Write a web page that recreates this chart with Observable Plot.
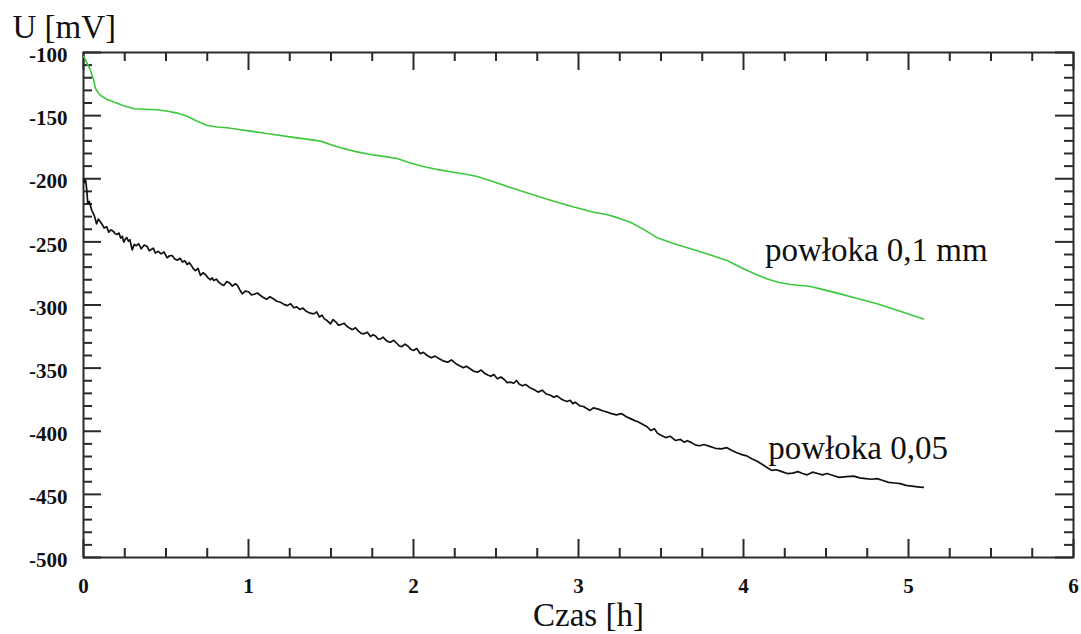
<!DOCTYPE html>
<html>
<head>
<meta charset="utf-8">
<script src="https://cdn.jsdelivr.net/npm/d3@7"></script>
<script src="https://cdn.jsdelivr.net/npm/@observablehq/plot@0.6"></script>
<style>
  html, body { margin: 0; padding: 0; background: #fff; }
</style>
</head>
<body>
<div id="chart"></div>
<script>
// Series: powłoka 0,1 mm (green)
const greenT = [0, 0.006, 0.02, 0.042, 0.06, 0.073, 0.09, 0.103, 0.14, 0.184, 0.24, 0.305, 0.37, 0.447, 0.51, 0.568, 0.628, 0.69, 0.75, 0.81, 0.871, 0.94, 1.012, 1.08, 1.153, 1.26, 1.376, 1.436, 1.5, 1.558, 1.65, 1.739, 1.82, 1.9, 1.98, 2.06, 2.15, 2.24, 2.31, 2.386, 2.467, 2.588, 2.71, 2.83, 2.96, 3.093, 3.17, 3.24, 3.315, 3.4, 3.477, 3.58, 3.68, 3.79, 3.9, 4.0, 4.07, 4.14, 4.21, 4.285, 4.406, 4.49, 4.568, 4.69, 4.81, 4.95, 5.09];
const greenU = [-103, -104, -108, -114, -121, -128.5, -132, -134, -137, -139.3, -142, -144.5, -145, -145.4, -146.5, -148, -150.5, -154.5, -157.8, -159, -159.6, -161, -162.3, -163.5, -165, -167, -169, -170.2, -173, -175.5, -178.5, -180.8, -182.3, -184, -187.5, -190.3, -192.8, -194.8, -196.3, -198.2, -201.5, -207, -212, -217, -222, -226.5, -228.3, -231, -234.4, -240.5, -246.8, -251.5, -255.5, -260, -264.7, -271.3, -275.5, -279.2, -282, -283.7, -285.3, -288, -290.6, -294.8, -299, -305, -311];

// Series: powłoka 0,05 (black)
const blackT = [0, 0.006, 0.013, 0.02, 0.026, 0.035, 0.05, 0.065, 0.079, 0.09, 0.1, 0.112, 0.125, 0.14, 0.153, 0.167, 0.18, 0.192, 0.204, 0.215, 0.225, 0.235, 0.244, 0.253, 0.262, 0.272, 0.281, 0.295, 0.308, 0.32, 0.335, 0.35, 0.368, 0.386, 0.398, 0.41, 0.423, 0.436, 0.453, 0.47, 0.488, 0.507, 0.522, 0.537, 0.553, 0.57, 0.585, 0.6, 0.614, 0.628, 0.642, 0.655, 0.667, 0.679, 0.694, 0.709, 0.724, 0.74, 0.755, 0.77, 0.78, 0.79, 0.805, 0.82, 0.835, 0.85, 0.868, 0.885, 0.902, 0.92, 0.933, 0.945, 0.962, 0.98, 1.0, 1.018, 1.035, 1.054, 1.073, 1.09, 1.11, 1.13, 1.15, 1.172, 1.194, 1.215, 1.235, 1.255, 1.275, 1.293, 1.31, 1.33, 1.35, 1.373, 1.396, 1.413, 1.43, 1.445, 1.46, 1.478, 1.497, 1.513, 1.53, 1.545, 1.56, 1.58, 1.598, 1.615, 1.63, 1.648, 1.665, 1.683, 1.7, 1.72, 1.74, 1.755, 1.77, 1.785, 1.8, 1.815, 1.83, 1.845, 1.86, 1.88, 1.9, 1.915, 1.93, 1.948, 1.965, 1.983, 2.0, 2.02, 2.04, 2.06, 2.083, 2.107, 2.13, 2.157, 2.184, 2.207, 2.23, 2.257, 2.285, 2.302, 2.32, 2.343, 2.365, 2.388, 2.41, 2.43, 2.45, 2.468, 2.487, 2.508, 2.53, 2.55, 2.568, 2.588, 2.608, 2.624, 2.64, 2.66, 2.68, 2.705, 2.73, 2.755, 2.78, 2.805, 2.83, 2.85, 2.87, 2.89, 2.91, 2.93, 2.95, 2.965, 2.98, 2.995, 3.01, 3.03, 3.05, 3.07, 3.09, 3.12, 3.15, 3.175, 3.2, 3.23, 3.26, 3.29, 3.315, 3.338, 3.36, 3.388, 3.416, 3.438, 3.46, 3.478, 3.497, 3.527, 3.557, 3.587, 3.618, 3.64, 3.66, 3.685, 3.71, 3.735, 3.76, 3.795, 3.83, 3.865, 3.9, 3.93, 3.96, 3.99, 4.02, 4.05, 4.08, 4.11, 4.14, 4.17, 4.2, 4.232, 4.265, 4.298, 4.33, 4.358, 4.386, 4.418, 4.45, 4.478, 4.507, 4.543, 4.58, 4.624, 4.668, 4.704, 4.74, 4.775, 4.81, 4.845, 4.88, 4.915, 4.95, 4.985, 5.02, 5.055, 5.09];
const blackU = [-200, -203, -201, -209, -219.8, -218, -225, -229, -235.7, -232, -233.6, -236, -239, -238, -242.3, -240.5, -241.5, -243.5, -244.1, -243, -247, -245.5, -250.2, -248, -246.5, -249.5, -248.3, -256.3, -252, -253, -251.5, -255.5, -252.5, -253.6, -257, -256, -255, -258.9, -257.5, -259.5, -258, -262.6, -261, -260.8, -263.5, -264.5, -263, -266, -265, -267.9, -266.5, -269, -271.5, -272.7, -271, -276.6, -274.5, -276, -278.5, -280, -278.5, -280.6, -279.5, -282, -283.5, -284.5, -281.5, -282.5, -285, -283.2, -284.5, -287.5, -291.1, -289, -289.5, -292, -291.5, -290.5, -292.5, -294, -295.5, -293.5, -295, -297, -297.8, -299.5, -300.5, -299, -302.2, -301.5, -303.5, -302.5, -305, -306.5, -307, -305.5, -309.5, -308, -311, -312.5, -314.9, -311.5, -313.5, -316, -315.5, -314.5, -317, -318.5, -319.5, -318, -320.5, -322.5, -322.8, -321.5, -325, -323.5, -324.5, -327, -326.8, -325.5, -327.5, -329, -329.5, -328, -330.5, -332.5, -333, -331, -332.5, -335, -336, -334.5, -338.5, -337.5, -340, -341.8, -340.5, -342.5, -344.5, -345.3, -343.5, -346.5, -348.5, -349.7, -348.5, -350.5, -352.5, -353.2, -351.5, -354, -355.5, -356.5, -355, -358.4, -357, -359, -361.5, -361.1, -362, -359.8, -362.5, -364, -363, -365.5, -367, -369, -367.5, -370.5, -371.5, -373, -372, -374, -375.5, -376.5, -375.5, -378.2, -377, -378.5, -380, -380.4, -382, -383.5, -381.5, -382.5, -384, -384.9, -386, -387, -386, -388.5, -390, -391.4, -392.5, -394.5, -396.5, -399.4, -398, -401.5, -403, -405, -404, -407.3, -406.5, -408.6, -407.5, -409, -411, -411.5, -410.5, -412, -413.5, -414, -413, -415.2, -417, -418.5, -419.5, -421.8, -423.5, -426, -428.5, -431, -430.5, -432, -433.5, -433.2, -432, -433.5, -434.5, -432.4, -433.5, -434.5, -433.5, -435, -436.5, -436, -435.5, -436.9, -437.5, -438, -437.5, -439, -440.5, -441, -441.5, -442.9, -443.5, -444, -444.5, -445];

// Axis ticks and labels
const xMajorTicks = [0, 1, 2, 3, 4, 5, 6];
const xMinorTicks = [0.25, 0.5, 0.75, 1.25, 1.5, 1.75, 2.25, 2.5, 2.75, 3.25, 3.5, 3.75, 4.25, 4.5, 4.75, 5.25, 5.5, 5.75];
const yMajorTicks = [-500, -450, -400, -350, -300, -250, -200, -150, -100];
const yMinorTicks = [-490, -480, -470, -460, -440, -430, -420, -410, -390, -380, -370, -360, -340, -330, -320, -310, -290, -280, -270, -260, -240, -230, -220, -210, -190, -180, -170, -160, -140, -130, -120, -110];
const xTitle = "Czas [h]";
const yTitle = "U [mV]";

// Series annotations
const seriesNames = ["powłoka 0,1 mm", "powłoka 0,05"];
const seriesLabelT = [4.13, 4.15];
const seriesLabelU = [-264.8, -421.6];

const green = greenT.map((t, i) => ({t, u: greenU[i]}));
const black = blackT.map((t, i) => ({t, u: blackU[i]}));
const labels = seriesNames.map((name, i) => ({name, t: seriesLabelT[i], u: seriesLabelU[i]}));

const W = 1081, H = 634;
const mL = 83, mR = 8, mT = 52, mB = 77;
const plotH = H - mT - mB;
const plotW = W - mL - mR;
const axisColor = "#2a2a2a";
const serif = "'Liberation Serif', 'Times New Roman', serif";
const tickFontSize = 21;

const chart = Plot.plot({
  width: W,
  height: H,
  marginLeft: mL,
  marginRight: mR,
  marginTop: mT,
  marginBottom: mB,
  style: {fontFamily: serif, background: "#fff"},
  x: {domain: [0, 6], axis: null, label: null},
  y: {domain: [-500, -100], axis: null, label: null},
  marks: [
    // tick labels
    Plot.text(xMajorTicks, {x: d => d, frameAnchor: "bottom", text: d => String(d), textAnchor: "middle", lineAnchor: "top", dy: 21, fontSize: tickFontSize, fontWeight: "bold", fontFamily: serif, fill: "#111", className: "ticklab"}),
    Plot.text(yMajorTicks, {y: d => d, frameAnchor: "left", text: d => String(d), textAnchor: "end", lineAnchor: "middle", dx: -16, dy: 3, fontSize: tickFontSize, fontWeight: "bold", fontFamily: serif, fill: "#111", className: "ticklab"}),
    // inward ticks: bottom & top
    Plot.tickX(xMinorTicks, {x: d => d, insetTop: plotH - 9, stroke: axisColor, strokeWidth: 2}),
    Plot.tickX(xMajorTicks, {x: d => d, insetTop: plotH - 18, stroke: axisColor, strokeWidth: 2}),
    Plot.tickX(xMinorTicks, {x: d => d, insetBottom: plotH - 9, stroke: axisColor, strokeWidth: 2}),
    Plot.tickX(xMajorTicks, {x: d => d, insetBottom: plotH - 18, stroke: axisColor, strokeWidth: 2}),
    // inward ticks: left & right
    Plot.tickY(yMinorTicks, {y: d => d, insetRight: plotW - 9, stroke: axisColor, strokeWidth: 2}),
    Plot.tickY(yMajorTicks, {y: d => d, insetRight: plotW - 18, stroke: axisColor, strokeWidth: 2}),
    Plot.tickY(yMinorTicks, {y: d => d, insetLeft: plotW - 9, stroke: axisColor, strokeWidth: 2}),
    Plot.tickY(yMajorTicks, {y: d => d, insetLeft: plotW - 18, stroke: axisColor, strokeWidth: 2}),
    Plot.frame({stroke: axisColor, strokeWidth: 2}),
    Plot.line(green, {x: "t", y: "u", stroke: "#3cc83c", strokeWidth: 1.6}),
    Plot.line(black, {x: "t", y: "u", stroke: "#111", strokeWidth: 1.7}),
    Plot.text(labels, {x: "t", y: "u", text: "name", textAnchor: "start", lineAnchor: "bottom", fontSize: 33, fontFamily: serif, fill: "#111"}),
    Plot.text([yTitle], {frameAnchor: "top-left", text: d => d, textAnchor: "start", lineAnchor: "bottom", dx: 12 - mL, dy: 37 - mT, fontSize: 33, fontFamily: serif, fill: "#111"}),
    Plot.text([xTitle], {frameAnchor: "bottom", text: d => d, textAnchor: "middle", lineAnchor: "bottom", dx: 10, dy: 68, fontSize: 33, fontFamily: serif, fill: "#111"})
  ]
});
// make sure the tick label size is applied on the text elements themselves
d3.select(chart).selectAll("g.ticklab text, g.ticklab").style("font-size", tickFontSize + "px");
document.getElementById("chart").appendChild(chart);
</script>
</body>
</html>
